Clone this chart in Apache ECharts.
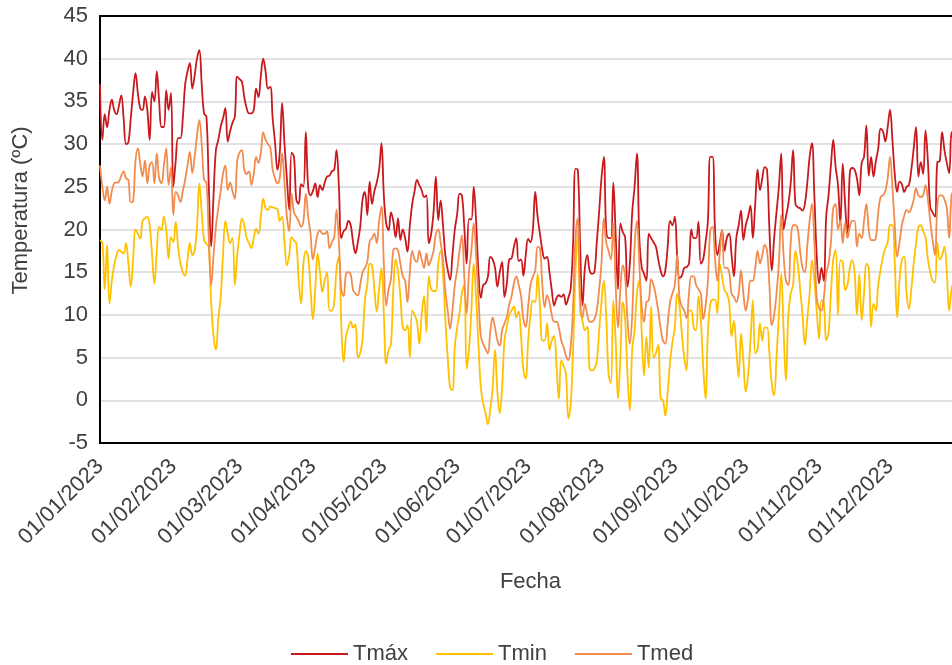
<!DOCTYPE html>
<html>
<head>
<meta charset="utf-8">
<script src="https://cdn.jsdelivr.net/npm/echarts@6.0.0/dist/echarts.min.js"></script>
<style>
  html, body { margin: 0; padding: 0; background: #fff; }
  #chart { width: 952px; height: 665px; }
</style>
</head>
<body>
<div id="chart"></div>
<script>
// daily values, 01/01/2023 .. 31/12/2023
const tmax = [
  37, 30.5, 33.5, 32, 34, 35.2, 34, 33.5, 34.5, 35.7,
  33, 30, 30.2, 33, 36, 38.3, 36, 34.2, 34, 35.6,
  34, 30.5, 36.1, 35, 38.5, 35, 32, 32, 36.3, 34,
  36, 25, 28, 30.7, 30.7, 33, 37, 38.5, 39.5, 36.5,
  38, 40, 41, 37, 33.6, 33.2, 25, 18, 24, 29.3,
  30.5, 32, 33, 34.2, 30.3, 31.5, 32.5, 33.2, 37.9, 37.6,
  37.3, 35.5, 34.2, 33.6, 33.6, 34, 36.5, 35.5, 38, 40,
  38.5, 36.5, 36.7, 33, 30.2, 27, 29, 34.8, 30, 26,
  22.3, 29, 28.5, 23.5, 23, 25.3, 25, 31.4, 25, 24,
  24.5, 25.4, 23.8, 25.2, 24.6, 25.5, 26.2, 26.3, 26.8, 27,
  29.3, 25, 19, 19.8, 20.1, 21, 20.5, 18.5, 17.2, 18.5,
  20.3, 23.5, 24.4, 21.7, 25.6, 23, 24.5, 25.5, 27, 30.1,
  24, 20.7, 19.9, 22, 21, 19.1, 21.3, 18.8, 20, 19,
  17.4, 20.5, 23, 24.5, 25.8, 25.2, 24.6, 23.8, 24, 18.4,
  19.5, 22, 26.2, 21.1, 23.4, 20.5, 17, 15.3, 14.1, 17,
  20, 21.8, 24.2, 24, 20.3, 16, 21.2, 21.2, 25, 21,
  15, 12, 13.5, 13.7, 14.5, 16.8, 16.5, 15.5, 13.3, 15,
  16.2, 12.1, 13.7, 16.5, 16.6, 18, 19, 16.3, 16.5, 14.6,
  17, 18.9, 18.5, 20, 24.4, 21.5, 19.5, 17.6, 16.6, 16.8,
  15, 12.9, 11.1, 12, 12.3, 12.1, 12.4, 11.2, 12, 13.1,
  18.4, 27.1, 27, 18, 11.1, 15.5, 17, 15.2, 14.8, 15,
  18.4, 22, 26, 28.5, 20, 19, 19, 25.5, 19.5, 13,
  20.7, 19.7, 19.1, 13.3, 16, 22, 25, 28.9, 19.1, 15.6,
  14.8, 14, 19.5, 19, 18.5, 18, 16.5, 15.2, 14.5, 15.2,
  18, 21, 20.5, 21.5, 17, 14.3, 14.6, 15.5, 15.6, 16,
  20, 19, 19, 20.9, 16, 16.5, 18.5, 21, 28.5, 28.5,
  20, 17, 18.4, 19.9, 17.5, 19, 19.5, 17, 14.5, 19,
  20.5, 22.2, 18.8, 20.5, 21.5, 22.8, 19, 23, 27, 24.6,
  26, 27.3, 27, 20, 15.2, 19, 22, 25, 28.9, 20,
  21.5, 23, 25.4, 29.3, 23, 22.6, 22.5, 22.2, 23, 25.4,
  28.5, 30.1, 24, 17, 13.7, 15.5, 14, 21.5, 24, 27.5,
  30.5, 27.3, 25.2, 20.7, 27.7, 23, 19.1, 26.6, 27.2, 27,
  26, 24, 27.8, 28.5, 32.2, 26.3, 28.5, 26.2, 28, 29.5,
  31.8, 31.5, 30.3, 32, 34, 30.5, 26.5, 24.4, 25.6, 25.3,
  24.4, 25, 25.2, 27, 29.5, 32, 26.2, 27.9, 26.5, 31.6,
  28, 22.6, 22, 21.5, 27.9, 28, 31.4, 29.3, 27.8, 26.6,
  31.4, 30, 28, 26, 27
];

const tmin = [
  18.75, 18.4, 13, 18.2, 11.3, 14, 15.8, 17, 17.6, 17.4,
  17.2, 18.4, 16, 13.3, 16.5, 20, 19.5, 18.9, 21, 21.3,
  21.5, 20.5, 17, 13.7, 17.5, 20.3, 19.9, 21.5, 20, 16.6,
  19.1, 18.5, 20.9, 18, 16, 15, 14.6, 16.5, 18.4, 17,
  17.5, 20.3, 25.4, 22, 18.75, 18.3, 18, 11.5, 7.5, 5.9,
  9.5, 12, 17, 21, 19.5, 18.4, 19, 13.5, 17, 19.5,
  21.3, 20.5, 19, 18.4, 17.8, 19, 20.1, 19.5, 21.5, 23.6,
  22.5, 22.3, 22.7, 22.6, 22.5, 22.4, 21, 21.5, 18.5, 15.8,
  17, 19.1, 18.7, 18.4, 14, 11.3, 16, 17.5, 16.8, 13,
  9.5, 13, 17.2, 15, 12.7, 14, 15, 10.5, 10.5, 11.5,
  15.4, 16.8, 9, 4.5, 7.5, 8.5, 9.2, 8.5, 8.9, 5,
  5.5, 7.2, 11.7, 13.5, 16, 15.8, 13, 10.4, 13, 15.5,
  10, 4.3, 5.9, 6.5, 12.9, 16.5, 15, 12.1, 8.5, 8.2,
  8.8, 5, 10.5, 10, 9.2, 6.6, 10, 12.2, 8, 14.5,
  13, 12.8, 12.8, 16, 17.5, 14.8, 9.5, 5, 1.5, 1.2,
  6.3, 8.5, 10.2, 12.5, 13.5, 3.7, 6, 10.5, 16, 12,
  6.5, 1.5, -0.4, -1.5, -2.8, -1, 1.5, 5.9, 1, -1.5,
  1.5, 7, 8.6, 10, 10.5, 11, 9.7, 10.4, 7.5, 3.5,
  2.5, 7, 10, 11.7, 11.5, 14.8, 11, 7, 7, 9,
  5.9, 7, 7.5, 4, 0.2, 4.7, 4, 3.1, -2.1, -0.5,
  6, 15, 20, 10.5, 9.3, 8.2, 8.6, 3.7, 3.5, 3.7,
  4.5, 8, 11.5, 14, 10, 3, 2, 11.7, 7, 0.2,
  5, 11.5, 9.5, 3, -1.2, 6, 8.2, 12.5, 14, 8,
  2.9, 7.4, 3.8, 11, 5, 5.5, 6.5, 0.2, 0, -1.8,
  1, 4.5, 6.8, 8.5, 12.5, 11, 7.8, 5, 3.5, 10.5,
  10.5, 8.5, 8.2, 12.2, 9.5, 4, 0.2, 8, 11.3, 11.8,
  11.8, 10.2, 16, 14.5, 12.9, 12.5, 11.5, 7.5, 9.3, 6,
  2.7, 7.8, 4.5, 1, 3, 7, 11.7, 5.5, 6, 9,
  7, 8.5, 8.5, 5.5, 1.9, 0.6, 5, 10, 14.8, 8.2,
  2.3, 10, 12.5, 13.5, 17.5, 16, 13, 10, 6.5, 9.5,
  12.5, 16.4, 14, 10.5, 7.2, 11.7, 11.5, 7, 8, 12.5,
  16.5, 17.6, 10, 16.4, 16.2, 12.9, 13.5, 15.5, 16.4, 15,
  10, 14.8, 9.4, 12.5, 16, 15.5, 8.6, 11.3, 10.5, 13.5,
  15.3, 16.8, 17.8, 18.5, 20.5, 20.5, 16, 9.7, 14, 16.5,
  16.8, 12.5, 10.7, 13, 16, 18.4, 20.3, 20.5, 19.8, 19.1,
  16.5, 15, 14, 13.8, 18.5, 16.5, 17, 18, 15, 10.5,
  13, 14, 15, 13, 12
];

const tmed = [
  27.5, 25, 23.4, 25, 23, 24.5, 25.4, 25.5, 25.6, 26.3,
  26.8, 26, 25.8, 23.2, 23.3, 28, 29.5, 27.7, 26.2, 28.1,
  25.4, 27.5, 27.9, 25.4, 28.9, 26, 25.4, 27.5, 29.5, 25.2,
  27.3, 21.7, 24.4, 24, 23.2, 24.5, 25.8, 27.5, 29.1, 26.6,
  28.5, 31, 32.8, 30, 25.8, 25.5, 19, 13.5, 17, 20.3,
  22.5, 24.5, 26.5, 27.5, 24.6, 25.5, 24.5, 23.6, 28, 29,
  29.3, 27, 26.5, 26.8, 25.2, 26.5, 28.5, 27.8, 29, 31.4,
  30.5, 30, 29.6, 27, 26, 25.4, 26, 28.9, 25.5, 21.5,
  19.8, 24.2, 22, 21.5, 21, 20.3, 21, 24.2, 21.5, 19.5,
  16.5, 18, 19.5, 19.9, 19.5, 19.5, 19.8, 17.8, 18.5, 19.1,
  22.3, 18.5, 13, 12.2, 14.8, 15, 14.7, 12.9, 12.5, 12.3,
  13.5, 15, 15.5, 16.2, 18.6, 19, 19.5, 18.4, 21, 22.7,
  16, 11.1, 13, 14.2, 17.6, 17.8, 17.5, 16, 14.5, 14,
  11.5, 15, 17.5, 16.5, 16.2, 17.5, 16.5, 15.5, 17.2, 15.8,
  16.5, 17.5, 19.5, 20, 18.5, 16.5, 12.8, 10.5, 8.4, 10.5,
  13.5, 15.2, 17.5, 19.3, 14.5, 10.2, 15, 17.5, 20.7, 17,
  12, 7.5, 6.6, 6, 5.5, 8, 9.7, 8.5, 7, 6.4,
  8.2, 9, 9.8, 11.2, 12.2, 13.7, 14.5, 13.5, 12.2, 9.5,
  8.6, 11, 13.5, 14.5, 15.2, 18, 17.8, 13.5, 10.9, 12.3,
  11.5, 10, 9.2, 9.2, 8.5, 7, 6.2, 5.2, 4.7, 6.3,
  11, 19, 21.3, 12, 9.7, 11.3, 10, 9.2, 9.2, 9.5,
  10.5, 12.9, 16, 21.3, 18.5, 17.5, 16.5, 20.7, 13.5, 8.5,
  13, 15.8, 14.5, 9.4, 6.6, 10, 18, 21, 16, 11,
  9.2, 11.5, 11.7, 14.2, 13.5, 12.2, 10.5, 8.5, 7, 6.6,
  9, 11.5, 12.5, 13.5, 17, 12, 11, 10.5, 9.6, 12.5,
  14.5, 14.5, 13.5, 13, 12.5, 9.5, 11, 14, 19.9, 20.3,
  16.5, 14, 17.2, 20, 15.5, 15.5, 15, 12.5, 12.1, 11.5,
  12.5, 15.2, 12.5, 10.5, 12, 14, 14, 15.5, 17.5, 16,
  17, 18.2, 17.5, 13.5, 8.8, 10, 12.5, 16, 21.7, 17,
  14, 13.5, 18.4, 20.5, 20.5, 20, 17.5, 15.5, 15, 18,
  21, 23, 18.5, 12, 10.8, 10.5, 12, 14.8, 16, 18.5,
  22.5, 23, 20, 21, 18.4, 20.8, 19, 20.3, 21, 21,
  18, 19.5, 19, 21, 23, 20, 18.75, 18.75, 19, 22,
  23.8, 24, 24.5, 26, 28.5, 25, 20.5, 16.8, 18.5, 20.5,
  21.6, 22.3, 22, 22.5, 23.5, 24.8, 24, 23.8, 24, 25.2,
  23.5, 21, 18.75, 17, 22.7, 24, 24, 23.5, 22.5, 19,
  24, 24.5, 23, 21.5, 21
];

// categories dd/mm/2023
const fechas = [];
for (let i = 0; i < 365; i++) {
  const d = new Date(Date.UTC(2023, 0, 1 + i));
  fechas.push(String(d.getUTCDate()).padStart(2, '0') + '/' +
    String(d.getUTCMonth() + 1).padStart(2, '0') + '/2023');
}

const txt = '#404040';
const chart = echarts.init(document.getElementById('chart'), null, { renderer: 'canvas' });

chart.setOption({
  animation: false,
  textStyle: { fontFamily: 'Liberation Sans, Arial, sans-serif' },
  grid: {
    left: 100, top: 16, right: -9, bottom: 222,
    show: true, borderColor: '#000', borderWidth: 2,
    outerBoundsMode: 'none'
  },
  legend: {
    bottom: -5, left: 286,
    icon: 'rect', itemWidth: 57, itemHeight: 2, itemGap: 28,
    textStyle: { fontSize: 22, color: txt },
    data: ['Tmáx', 'Tmin', 'Tmed']
  },
  xAxis: [{
    type: 'category',
    data: fechas,
    boundaryGap: false,
    name: 'Fecha',
    nameLocation: 'middle',
    nameGap: 128,
    nameTextStyle: { fontSize: 22, color: txt },
    axisLine: { onZero: false, lineStyle: { color: '#000', width: 2 } },
    axisTick: { show: false },
    splitLine: { show: false },
    axisLabel: {
      interval: (idx, val) => val.startsWith('01/'),
      rotate: 45,
      margin: 20,
      fontSize: 22,
      color: txt
    }
  }, {
    // top frame line
    type: 'category',
    data: fechas,
    position: 'top',
    boundaryGap: false,
    axisLine: { onZero: false, lineStyle: { color: '#000', width: 2 } },
    axisTick: { show: false },
    axisLabel: { show: false },
    splitLine: { show: false }
  }],
  yAxis: {
    type: 'value',
    min: -5, max: 45, interval: 5,
    name: 'Temperatura (ºC)',
    nameLocation: 'middle',
    nameGap: 68,
    nameTextStyle: { fontSize: 22, color: txt, padding: [0, 0, 0, 38] },
    axisLine: { show: true, lineStyle: { color: '#000', width: 2 } },
    axisTick: { show: false },
    axisLabel: { fontSize: 22, color: txt, margin: 12 },
    splitLine: { lineStyle: { color: '#d9d9d9', width: 1.5 } }
  },
  series: [
    { name: 'Tmáx', type: 'line', data: tmax, smooth: 0.4, showSymbol: false,
      lineStyle: { width: 1.8, color: '#c8191e' }, itemStyle: { color: '#c8191e' } },
    { name: 'Tmin', type: 'line', data: tmin, smooth: 0.4, showSymbol: false,
      lineStyle: { width: 1.8, color: '#ffc000' }, itemStyle: { color: '#ffc000' } },
    { name: 'Tmed', type: 'line', data: tmed, smooth: 0.4, showSymbol: false,
      lineStyle: { width: 1.8, color: '#f28c4e' }, itemStyle: { color: '#f28c4e' } }
  ]
});
</script>
</body>
</html>
